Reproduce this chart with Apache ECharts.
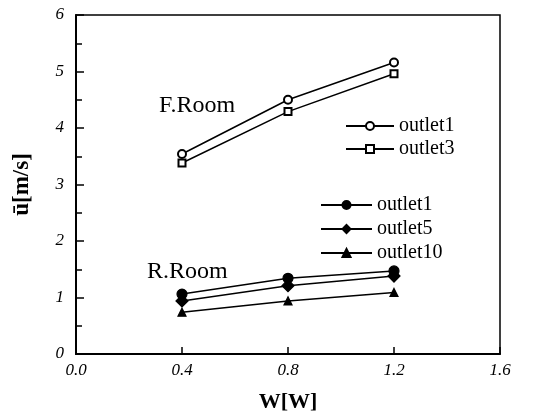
<!DOCTYPE html>
<html><head><meta charset="utf-8">
<script src="https://cdn.jsdelivr.net/npm/echarts@6/dist/echarts.min.js"></script>
<style>html,body{margin:0;padding:0;background:#fff}#c{width:543px;height:418px}</style>
</head><body><div id="c"></div>
<script>
const xValues = [0.4, 0.8, 1.2];
const fOutlet1 = [3.54, 4.50, 5.16];
const fOutlet3 = [3.38, 4.29, 4.96];
const rOutlet1 = [1.06, 1.34, 1.47];
const rOutlet5 = [0.94, 1.21, 1.38];
const rOutlet10 = [0.74, 0.94, 1.09];
const xTicks = [0.0, 0.4, 0.8, 1.2, 1.6];
const yTicks = [0, 1, 2, 3, 4, 5, 6];

const serif = '"Liberation Serif","DejaVu Serif",serif';
const pairs = v => xValues.map((x, i) => [x, v[i]]);
function mk(name, data, symbol, size) {
  return {
    name, type: 'line', data: pairs(data), symbol, symbolSize: size,
    lineStyle: { color: '#000', width: 1.5 },
    itemStyle: { color: '#000', borderColor: '#000', borderWidth: 1.2 },
    animation: false
  };
}
const chart = echarts.init(document.getElementById('c'));
const legendText = { fontFamily: serif, fontSize: 20, color: '#000' };
chart.setOption({
  backgroundColor: '#fff',
  grid: { left: 76, top: 15, right: 43, bottom: 63, show: true, borderColor: '#000', borderWidth: 1.5 },
  xAxis: {
    type: 'value', min: 0, max: 1.6, interval: 0.4,
    axisLine: { lineStyle: { color: '#000', width: 2 } },
    axisTick: { inside: true, length: 7, lineStyle: { color: '#000', width: 1.5 } },
    axisLabel: { fontFamily: serif, fontStyle: 'italic', fontSize: 17, color: '#000', margin: 8,
      formatter: v => v.toFixed(1) },
    splitLine: { show: false },
    name: 'W[W]', nameLocation: 'middle', nameGap: 37,
    nameTextStyle: { fontFamily: serif, fontWeight: 'bold', fontSize: 22, color: '#000' }
  },
  yAxis: {
    type: 'value', min: 0, max: 6, interval: 1,
    axisLine: { lineStyle: { color: '#000', width: 2 } },
    axisTick: { inside: true, length: 8, lineStyle: { color: '#000', width: 1.5 } },
    minorTick: { show: true, splitNumber: 2, length: 6, lineStyle: { color: '#000', width: 1.5 } },
    axisLabel: { fontFamily: serif, fontStyle: 'italic', fontSize: 17, color: '#000', margin: 12 },
    splitLine: { show: false },
    name: 'ū[m/s]', nameLocation: 'middle', nameGap: 42, nameRotate: 90,
    nameTextStyle: { fontFamily: serif, fontWeight: 'bold', fontSize: 23, color: '#000' }
  },
  legend: [
    { data: ['F outlet1', 'F outlet3'], orient: 'vertical', left: 340, top: 111,
      itemWidth: 48, itemHeight: 10, itemGap: 3, textStyle: legendText,
      formatter: n => n.split(' ')[1], selectedMode: false },
    { data: ['R outlet1', 'R outlet5', 'R outlet10'], orient: 'vertical', left: 315, top: 190,
      itemWidth: 51, itemHeight: 10, itemGap: 4, textStyle: legendText,
      formatter: n => n.split(' ')[1], selectedMode: false }
  ],
  graphic: [
    { type: 'text', left: 159, top: 94, style: { text: 'F.Room', font: '24px ' + serif, fill: '#000' } },
    { type: 'text', left: 147, top: 260, style: { text: 'R.Room', font: '24px ' + serif, fill: '#000' } }
  ],
  series: [
    mk('F outlet1', fOutlet1, 'emptyCircle', 8),
    mk('F outlet3', fOutlet3, 'emptyRect', 7),
    mk('R outlet1', rOutlet1, 'circle', 10),
    mk('R outlet5', rOutlet5, 'diamond', 12),
    mk('R outlet10', rOutlet10, 'triangle', 8)
  ]
});
</script></body></html>
